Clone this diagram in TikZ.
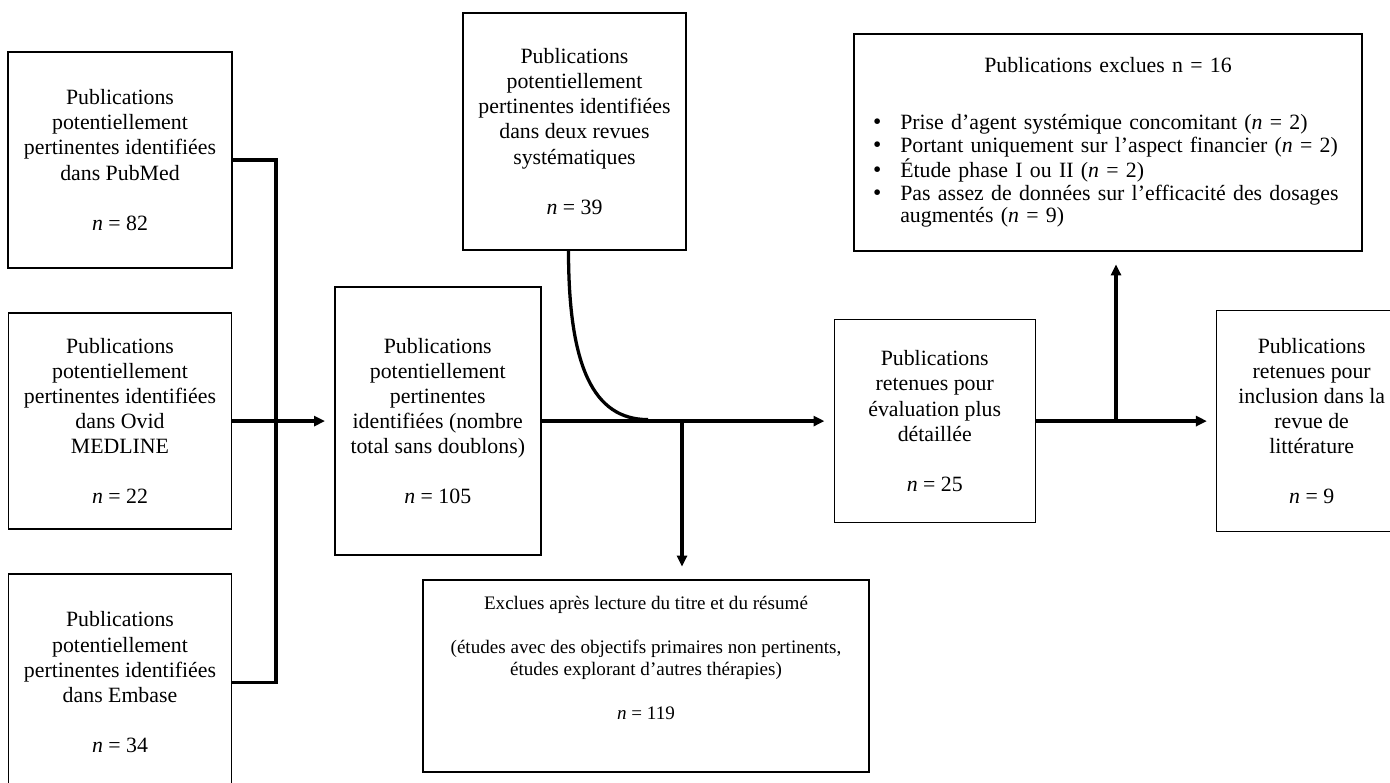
\documentclass[tikz,border=0pt]{standalone}
\usepackage{fontspec}
\setmainfont{Liberation Serif}
\usetikzlibrary{arrows.meta,positioning}

\tikzset{
	box/.style = {draw, line width=0.8pt, inner sep=0pt, align=center, font=\fontsize{12}{13.8}\selectfont},
	link/.style = {line width=1.8pt},
	arrow/.style = {link, -{Triangle[length=6pt,width=5.5pt]}, shorten >=5pt}
}

\newcommand{\bul}{\par\noindent\hangindent=15pt\hangafter=1\makebox[15pt][l]{\fontsize{13}{0}\selectfont\textbullet}}

\begin{document}
\begin{tikzpicture}[x=0.55pt,y=-0.55pt]
	\useasboundingbox (0,0) rectangle (1390,783);
	\clip (0,0) rectangle (1390,783);
	
	% sources
	\node[box,minimum width=224*0.55pt,minimum height=216*0.55pt] (pubmed) at (120,160) {Publications\\potentiellement\\pertinentes identifiées\\dans PubMed\\[13.8pt]\textit{n} = 82};
	\node[box,minimum width=223*0.55pt,minimum height=216*0.55pt,below=24pt of pubmed] (ovid) {Publications\\potentiellement\\pertinentes identifiées\\dans Ovid\\MEDLINE\\[13.8pt]\textit{n} = 22};
	\node[box,minimum width=223*0.55pt,minimum height=216*0.55pt,below=24pt of ovid] (embase) {Publications\\potentiellement\\pertinentes identifiées\\dans Embase\\[13.8pt]\textit{n} = 34};
	
	% main row
	\node[box,minimum width=206*0.55pt,minimum height=268*0.55pt,right=56pt of ovid] (centre) {Publications\\potentiellement\\pertinentes\\identifiées (nombre\\total sans doublons)\\[13.8pt]\textit{n} = 105};
	\node[box,minimum width=201*0.55pt,minimum height=203*0.55pt,right=160.6pt of centre] (ret) {Publications\\retenues pour\\évaluation plus\\détaillée\\[13.8pt]\textit{n} = 25};
	\node[box,minimum width=190*0.55pt,minimum height=221*0.55pt,right=99pt of ret] (final) {Publications\\retenues pour\\inclusion dans la\\revue de\\littérature\\[13.8pt]\textit{n} = 9};
	
	% side boxes
	\node[box,minimum width=223*0.55pt,minimum height=237*0.55pt] (revues) at (574.5,131.5) {Publications\\potentiellement\\pertinentes identifiées\\dans deux revues\\systématiques\\[13.8pt]\textit{n} = 39};
	\node[box,minimum width=446*0.55pt,minimum height=192*0.55pt,font=\fontsize{10.5}{12.1}\selectfont] (exclues) at (646,676) {Exclues après lecture du titre et du résumé\\[12.1pt](études avec des objectifs primaires non pertinents,\\études explorant d’autres thérapies)\\[12.1pt]\textit{n} = 119\\[8pt]\mbox{}};
	\node[box,minimum width=508*0.55pt,minimum height=217*0.55pt,text width=258.5pt,align=left,font=\fontsize{12}{12.4}\selectfont] (exclues2) at (1108,142.5) {%
		{\centering Publications exclues n = 16\par}\vspace{19pt}
		\raggedright
		\bul Prise d’agent systémique concomitant (\textit{n} = 2)\par
		\bul Portant uniquement sur l’aspect financier (\textit{n} = 2)\par
		\bul Étude phase I ou II (\textit{n} = 2)\par
		\bul Pas assez de données sur l’efficacité des dosages\newline augmentés (\textit{n} = 9)\par};
	
	\coordinate (merge) at (276,419.6);
	\coordinate (join) at (648,419.6);
	\coordinate (split) at (682,419.6);
	\coordinate (splitup) at (1116,419.6);
	
	\draw[link] (pubmed.east) -| (merge) |- (embase.east);
	\draw[arrow] (ovid.east) -- (centre.west);
	\draw[arrow] (centre.east) -- (ret.west);
	\draw[link] ([xshift=-3.3pt]revues.south) .. controls +(0,115) and +(-55,0) .. (join);
	\draw[arrow,shorten >=7pt] (split) -- (split |- exclues.north);
	\draw[arrow] (ret.east) -- (final.west);
	\draw[arrow,shorten >=7pt] (splitup) -- (splitup |- exclues2.south);
\end{tikzpicture}
\end{document}
